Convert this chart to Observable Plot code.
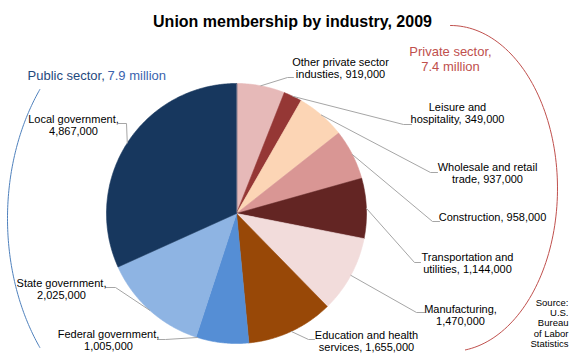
<!DOCTYPE html>
<html><head><meta charset="utf-8">
<script src="https://cdn.jsdelivr.net/npm/d3@7"></script>
<script src="https://cdn.jsdelivr.net/npm/@observablehq/plot@0.6"></script>
<style>body{margin:0;background:#fff}</style>
</head><body><div id="chart"></div>
<script>
// ---------- data ----------
const title = "Union membership by industry, 2009";
const industries = ["Other private sector industies","Leisure and hospitality","Wholesale and retail trade","Construction","Transportation and utilities","Manufacturing","Education and health services","Federal government","State government","Local government"];
const members = [919000,349000,937000,958000,1144000,1470000,1655000,1005000,2025000,4867000];
const sectors = ["Private","Private","Private","Private","Private","Private","Private","Public","Public","Public"];
const sectorNames = {Public: "Public sector", Private: "Private sector"};
const sourceLines = ["Source:","U.S.","Bureau","of Labor","Statistics"];

// ---------- styles ----------
const sliceColors = ["#E6B9B8","#953735","#FCD5B5","#D99694","#632523","#F2DCDB","#984807","#558ED5","#8EB4E3","#17375E"];

// ---------- layout (pixels) ----------
const W = 580, H = 360;
const pie = {cx: 236, cy: 213, r: 130};
// br: words before line break (null = one line; = word count -> break before value)
const labelLayout = [
  {x: 340, y: 67.5, br: 3, elbow: [287, 77], end: [293, 77]},
  {x: 457, y: 113, br: 2, elbow: [403, 124], end: [411, 124]},
  {x: 487, y: 173, br: 3, elbow: [430, 172], end: [437, 172]},
  {x: 492, y: 217, br: null, elbow: [432, 221], end: [439, 221]},
  {x: 467, y: 263, br: 2, elbow: [414, 262], end: [420, 262]},
  {x: 460, y: 314.5, br: 1, elbow: [416, 312], end: [424, 312]},
  {x: 366, y: 341, br: 3, elbow: [308, 339], end: [314, 339]},
  {x: 108, y: 339.5, br: 2, elbow: [165, 339], end: [157, 339], anchorDeg: 197.5},
  {x: 61, y: 288.5, br: 2, elbow: [115, 287], end: [105, 287]},
  {x: 73, y: 125, br: 2, elbow: [126, 123], end: [118, 123]}
];
const brackets = [
  {sector: "Public", cx: 157, cy: 218, a: 150, b: 208, t0: 141.7, t1: 218.3, color: "#4F81BD"},
  {sector: "Private", cx: 450, cy: 188, a: 107, b: 163, t0: -90, t1: 82, color: "#C0504D"}
];

// ---------- derived ----------
const fmt = d3.format(",");
const total = d3.sum(members);
let acc = 0;
const slices = industries.map((name, i) => {
  const a0 = acc / total * 2 * Math.PI; acc += members[i];
  const a1 = acc / total * 2 * Math.PI;
  return {name, value: members[i], a0, a1, i};
});
const polyPts = slices.flatMap(s => {
  const n = Math.max(2, Math.ceil((s.a1 - s.a0) / (Math.PI / 360)));
  const pts = [{name: s.name, x: pie.cx, y: pie.cy}];
  for (let k = 0; k <= n; k++) {
    const a = s.a0 + (s.a1 - s.a0) * k / n;
    pts.push({name: s.name, x: pie.cx + pie.r * Math.sin(a), y: pie.cy - pie.r * Math.cos(a)});
  }
  return pts;
});
function labelText(i) {
  const words = industries[i].split(" ");
  const br = labelLayout[i].br, v = fmt(members[i]);
  if (br == null) return industries[i] + ", " + v;
  if (br >= words.length) return industries[i] + ",\n" + v;
  return words.slice(0, br).join(" ") + "\n" + words.slice(br).join(" ") + ", " + v;
}
const labels = slices.map((s, i) => ({...labelLayout[i], text: labelText(i)}));
const leaderPts = slices.flatMap((s, i) => {
  const L = labelLayout[i];
  const a = L.anchorDeg != null ? L.anchorDeg * Math.PI / 180 : (s.a0 + s.a1) / 2;
  return [
    {k: i, x: pie.cx + pie.r * Math.sin(a), y: pie.cy - pie.r * Math.cos(a)},
    {k: i, x: L.elbow[0], y: L.elbow[1]},
    {k: i, x: L.end[0], y: L.end[1]}
  ];
});
const bracketPts = brackets.flatMap(b => d3.range(0, 101).map(j => {
  const t = (b.t0 + (b.t1 - b.t0) * j / 100) * Math.PI / 180;
  return {sector: b.sector, color: b.color, x: b.cx + b.a * Math.cos(t), y: b.cy + b.b * Math.sin(t)};
}));
const sectorTotal = s => d3.format(".1f")(d3.sum(members.filter((v, i) => sectors[i] === s)) / 1e6) + " million";

const chart = Plot.plot({
  width: W, height: H, margin: 0,
  style: {fontFamily: "'Liberation Sans', Arial, sans-serif", background: "#fff", color: "#000"},
  x: {domain: [0, W], range: [0, W], axis: null},
  y: {domain: [0, H], range: [0, H], axis: null},
  color: {domain: industries, range: sliceColors},
  marks: [
    Plot.line(polyPts, {x: "x", y: "y", z: "name", fill: "name", stroke: "name", strokeWidth: 0.6, curve: "linear-closed"}),
    Plot.line(leaderPts, {x: "x", y: "y", z: "k", stroke: "#A6A6A6", strokeWidth: 1}),
    Plot.line(bracketPts, {x: "x", y: "y", z: "sector", stroke: d => d.color, strokeWidth: 1, curve: "natural"}),
    Plot.text(labels, {x: "x", y: "y", text: "text", textAnchor: "middle", lineAnchor: "middle", lineHeight: 1.08, fontSize: 11, fill: "#000"}),
    Plot.text([title], {x: 292, y: 21, text: d => d, fontSize: 16, fontWeight: "bold", fill: "#000"}),
    Plot.text([sectorNames.Public + ","], {x: 27, y: 75, text: d => d, textAnchor: "start", fontSize: 13, fill: "#1F497D"}),
    Plot.text([sectorTotal("Public")], {x: 107, y: 75, text: d => d, textAnchor: "start", fontSize: 13, fill: "#3A63AE"}),
    Plot.text([sectorNames.Private + ",\n" + sectorTotal("Private")], {x: 450, y: 58.3, text: d => d, textAnchor: "middle", lineAnchor: "middle", lineHeight: 1.15, fontSize: 13, fill: "#C0504D"}),
    Plot.text([sourceLines.join("\n")], {x: 568, y: 322.5, text: d => d, textAnchor: "end", lineAnchor: "middle", lineHeight: 1.08, fontSize: 9.5, fill: "#000"})
  ]
});
document.getElementById("chart").appendChild(chart);
</script>
</body></html>
